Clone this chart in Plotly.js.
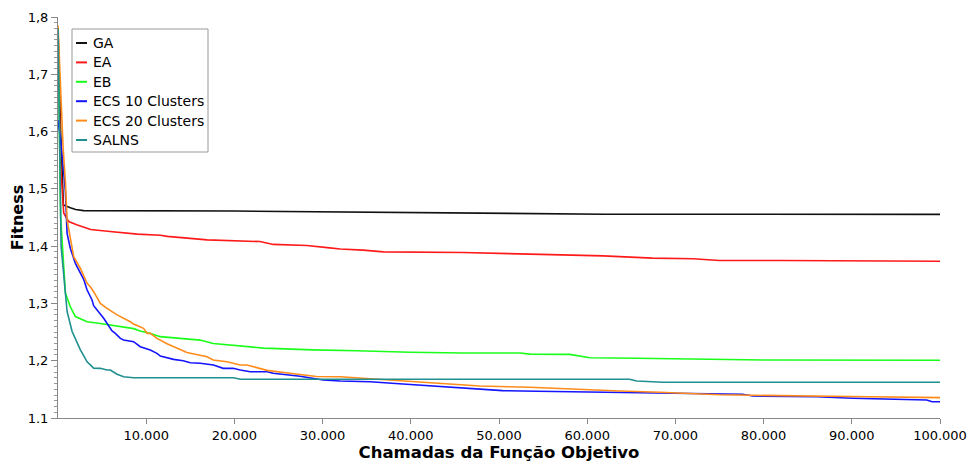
<!DOCTYPE html>
<html>
<head>
<meta charset="utf-8">
<script src="https://cdn.plot.ly/plotly-3.0.1.min.js"></script>
<style>html,body{margin:0;padding:0;background:#fff;}#chart{width:973px;height:466px;}</style>
</head>
<body>
<div id="chart"></div>
<script>
// ---- data ----
const gaX = [0, 300, 610, 1000, 1400, 2000, 2900, 20000, 26000, 33000, 49500, 53000, 62000, 100000];
const gaY = [1.78, 1.60, 1.472, 1.469, 1.467, 1.464, 1.462, 1.4613, 1.4605, 1.4595, 1.4578, 1.457, 1.4558, 1.4555];

const eaX = [0, 300, 645, 1200, 2200, 3700, 5600, 6700, 9000, 11600, 12400, 16900, 20700, 22900, 24400, 28200, 30800, 32000, 34600, 36900, 45900, 49800, 53500, 61800, 67400, 72000, 75000, 82000, 92000, 96500, 100000];
const eaY = [1.78, 1.54, 1.458, 1.443, 1.437, 1.429, 1.426, 1.424, 1.421, 1.419, 1.417, 1.411, 1.409, 1.408, 1.403, 1.401, 1.397, 1.395, 1.393, 1.390, 1.389, 1.387, 1.386, 1.383, 1.379, 1.378, 1.375, 1.375, 1.3745, 1.374, 1.3735];

const ebX = [0, 300, 840, 1400, 1970, 3300, 4800, 6300, 7100, 8600, 9300, 10400, 11600, 14200, 16100, 17600, 19900, 20700, 23300, 28900, 30800, 33900, 39900, 45900, 52400, 53500, 58000, 60300, 65600, 75000, 80700, 100000];
const ebY = [1.78, 1.45, 1.318, 1.294, 1.277, 1.268, 1.265, 1.261, 1.259, 1.256, 1.252, 1.248, 1.242, 1.239, 1.236, 1.230, 1.227, 1.226, 1.222, 1.219, 1.2187, 1.2175, 1.2147, 1.2134, 1.2134, 1.2115, 1.211, 1.2053, 1.2042, 1.2024, 1.2012, 1.2007];

const ecs10X = [0, 270, 640, 840, 1030, 1400, 1970, 2540, 2910, 3300, 3480, 3860, 4040, 4430, 5180, 6130, 6500, 7070, 7440, 8570, 9330, 10460, 11220, 11600, 13100, 14200, 15000, 16130, 17630, 18730, 19860, 20660, 21790, 23720, 24390, 27450, 30060, 31980, 35400, 39100, 43300, 46700, 50400, 54300, 61800, 67400, 75000, 77600, 78800, 86000, 90100, 93900, 98500, 99100, 100000];
const ecs10Y = [1.62, 1.589, 1.53, 1.495, 1.4223, 1.396, 1.37, 1.352, 1.342, 1.3234, 1.3176, 1.306, 1.296, 1.2885, 1.274, 1.252, 1.2478, 1.239, 1.2361, 1.2332, 1.2244, 1.2187, 1.2129, 1.208, 1.2024, 1.200, 1.1965, 1.1955, 1.1925, 1.1867, 1.1867, 1.1838, 1.1808, 1.1808, 1.178, 1.173, 1.1663, 1.1646, 1.1634, 1.1593, 1.1546, 1.1518, 1.1477, 1.1466, 1.1449, 1.1431, 1.1414, 1.1414, 1.1384, 1.1372, 1.1344, 1.1332, 1.1314, 1.1284, 1.1284];

const ecs20X = [0, 300, 580, 840, 1030, 1780, 2540, 3300, 3670, 4040, 4800, 5560, 6700, 8200, 8570, 9700, 10100, 10460, 11220, 12360, 14620, 16900, 17600, 19150, 20660, 21400, 23700, 26300, 29300, 32000, 34600, 40250, 44100, 47800, 53500, 58000, 63700, 68200, 75000, 78800, 90100, 92000, 97700, 100000];
const ecs20Y = [1.785, 1.66, 1.571, 1.512, 1.4455, 1.3815, 1.361, 1.335, 1.329, 1.3205, 1.30, 1.2915, 1.280, 1.268, 1.264, 1.2565, 1.2478, 1.2478, 1.239, 1.2295, 1.2145, 1.207, 1.2012, 1.1983, 1.1925, 1.1925, 1.1832, 1.178, 1.1725, 1.172, 1.1692, 1.1634, 1.1593, 1.1558, 1.1538, 1.1506, 1.1471, 1.1449, 1.1405, 1.1396, 1.1384, 1.1372, 1.136, 1.1355];

const salnsX = [0, 350, 1030, 1600, 2540, 3300, 4040, 4800, 5560, 5930, 6700, 7440, 8570, 19900, 20700, 21500, 64800, 65600, 68600, 100000];
const salnsY = [1.78, 1.40, 1.286, 1.251, 1.219, 1.198, 1.187, 1.1867, 1.1838, 1.1838, 1.1765, 1.172, 1.1703, 1.1703, 1.1676, 1.1676, 1.1676, 1.1646, 1.1623, 1.1623];

const seriesNames = ["GA", "EA", "EB", "ECS 10 Clusters", "ECS 20 Clusters", "SALNS"];
const xTickVals = [10000, 20000, 30000, 40000, 50000, 60000, 70000, 80000, 90000, 100000];
const xTickText = ["10.000", "20.000", "30.000", "40.000", "50.000", "60.000", "70.000", "80.000", "90.000", "100.000"];
const yTickVals = [1.1, 1.2, 1.3, 1.4, 1.5, 1.6, 1.7, 1.8];
const yTickText = ["1.1", "1,2", "1,3", "1,4", "1,5", "1,6", "1,7", "1,8"];

const colors = ["#111111", "#ff1a1a", "#1aff1a", "#1414ff", "#ff8c1a", "#1f8f8f"];
const xs = [gaX, eaX, ebX, ecs10X, ecs20X, salnsX];
const ys = [gaY, eaY, ebY, ecs10Y, ecs20Y, salnsY];

const traces = seriesNames.map((n, i) => ({
  x: xs[i], y: ys[i], name: n, type: "scatter", mode: "lines",
  line: {color: colors[i], width: 1.6}, showlegend: false
}));

const FONT = "DejaVu Sans, Verdana, sans-serif";
const W = 973, H = 466, ML = 58, MR = 33, MT = 17, MB = 48;
const PW = W - ML - MR, PH = H - MT - MB;
const px2x = p => (p - ML) / PW;
const py2y = p => (H - MB - p) / PH;

// hand-drawn legend (box, short line samples, labels)
const shapes = [{
  type: "rect", xref: "paper", yref: "paper", layer: "above",
  x0: px2x(72), x1: px2x(208), y0: py2y(152), y1: py2y(29),
  line: {color: "#999", width: 1}, fillcolor: "#fff"
}];
const annotations = [];
seriesNames.forEach((n, i) => {
  const rowY = 43 + i * 19.4;
  shapes.push({
    type: "line", xref: "paper", yref: "paper", layer: "above",
    x0: px2x(76), x1: px2x(87), y0: py2y(rowY), y1: py2y(rowY),
    line: {color: colors[i], width: 2}
  });
  annotations.push({
    xref: "paper", yref: "paper", x: px2x(91), y: py2y(rowY),
    xanchor: "left", yanchor: "middle", showarrow: false,
    text: n, font: {family: FONT, size: 14, color: "#000"}
  });
});

const layout = {
  width: W, height: H,
  margin: {l: ML, r: MR, t: MT, b: MB},
  paper_bgcolor: "#fff", plot_bgcolor: "#fff",
  font: {family: FONT, size: 13, color: "#000"},
  showlegend: false,
  shapes: shapes, annotations: annotations,
  xaxis: {
    range: [0, 100000], showgrid: false, zeroline: false,
    showline: true, linecolor: "#888", linewidth: 1,
    ticks: "outside", ticklen: 5, tickcolor: "#888",
    tickvals: xTickVals, ticktext: xTickText,
    tickfont: {family: FONT, size: 13, color: "#000"},
    title: {text: "<b>Chamadas da Função Objetivo</b>", font: {family: FONT, size: 16.5, color: "#000"}, standoff: 2}
  },
  yaxis: {
    range: [1.1, 1.8], showgrid: false, zeroline: false,
    showline: true, linecolor: "#888", linewidth: 1,
    ticks: "outside", ticklen: 6, tickcolor: "#888",
    tickvals: yTickVals, ticktext: yTickText,
    tickfont: {family: FONT, size: 13, color: "#000"},
    minor: {dtick: 0.01, ticks: "outside", ticklen: 3, tickcolor: "#999", showgrid: false},
    title: {text: "<b>Fitness</b>", font: {family: FONT, size: 16, color: "#000"}, standoff: 0}
  }
};

Plotly.newPlot("chart", traces, layout, {displayModeBar: false, staticPlot: true});
</script>
</body>
</html>
